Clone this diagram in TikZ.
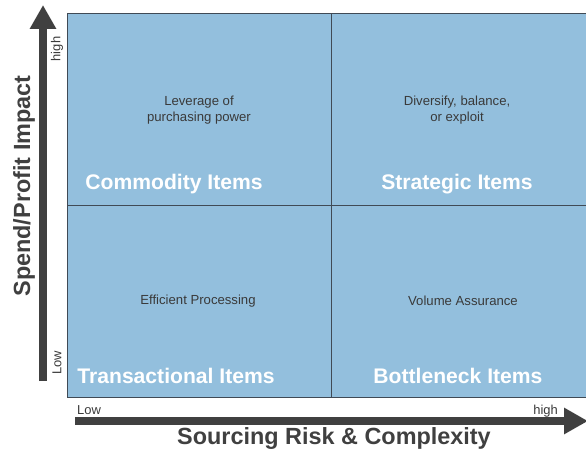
\documentclass[tikz,border=0pt]{standalone}
\usepackage{fontspec}
\setmainfont{Liberation Sans}
\usetikzlibrary{arrows.meta}
\definecolor{quadblue}{HTML}{93BFDD}
\definecolor{gridline}{HTML}{404A55}
\definecolor{axisgray}{HTML}{404040}
\definecolor{txtgray}{HTML}{3A3A3A}
\tikzset{
  quad/.style={draw=gridline, line width=1.3bp, fill=quadblue, minimum width=#1, minimum height=192bp, inner sep=0pt, anchor=north west},
  qtitle/.style={text=white, font=\fontsize{21.2}{24}\selectfont\bfseries, inner sep=0pt},
  qtext/.style={text=txtgray, font=\fontsize{13.2}{16}\selectfont, align=center, inner sep=0pt},
  ticklabel/.style={text=txtgray, font=\fontsize{13}{15}\selectfont, inner sep=0pt},
  axistitle/.style={text=axisgray, font=\fontsize{23.5}{26}\selectfont\bfseries, inner sep=0pt},
  axisarrow/.style={draw=axisgray, line width=8bp, -{Triangle[width=25bp,length=24bp]}}
}
\begin{document}
\begin{tikzpicture}[x=1bp,y=-1bp]
\useasboundingbox (0,0) rectangle (586,457);
% quadrants
\node[quad=264bp] (tl) at (67,13) {};
\node[quad=264bp] (bl) at (67,205) {};
\node[quad=264bp] (tr) at (331,13) {};
\node[quad=264bp] (br) at (331,205) {};
% quadrant texts
\node[qtext] (tlt) at (199,110) {Leverage of\\purchasing power};
\node[qtext] (trt) at (457,110) {Diversify, balance,\\or exploit};
\node[qtext] (blt) at (198,301) {Efficient Processing};
\node[qtext] (brt) at (463,301) {Volume Assurance};
% quadrant titles
\node[qtitle] (tlh) at (174,184) {Commodity Items};
\node[qtitle] (trh) at (457,184) {Strategic Items};
\node[qtitle] (blh) at (176,376) {Transactional Items};
\node[qtitle] (brh) at (458,376) {Bottleneck Items};
% axes
\coordinate (ybot) at (43,381);
\coordinate (ytop) at (43,5);
\coordinate (xleft) at (75,421);
\coordinate (xright) at (588,421);
\draw[axisarrow] (ybot) -- (ytop);
\draw[axisarrow] (xleft) -- (xright);
% tick labels
\node[ticklabel, rotate=90] (yhigh) at (57,49) {high};
\node[ticklabel, rotate=90] (ylow) at (57,363) {Low};
\node[ticklabel, anchor=base west] (xlow) at (77,414) {Low};
\node[ticklabel, anchor=base east] (xhigh) at (558,414) {high};
% axis titles
\node[axistitle] (xt) at (334,438) {Sourcing Risk \& Complexity};
\node[axistitle, rotate=90] (yt) at (24,186) {Spend/Profit Impact};
\end{tikzpicture}
\end{document}
